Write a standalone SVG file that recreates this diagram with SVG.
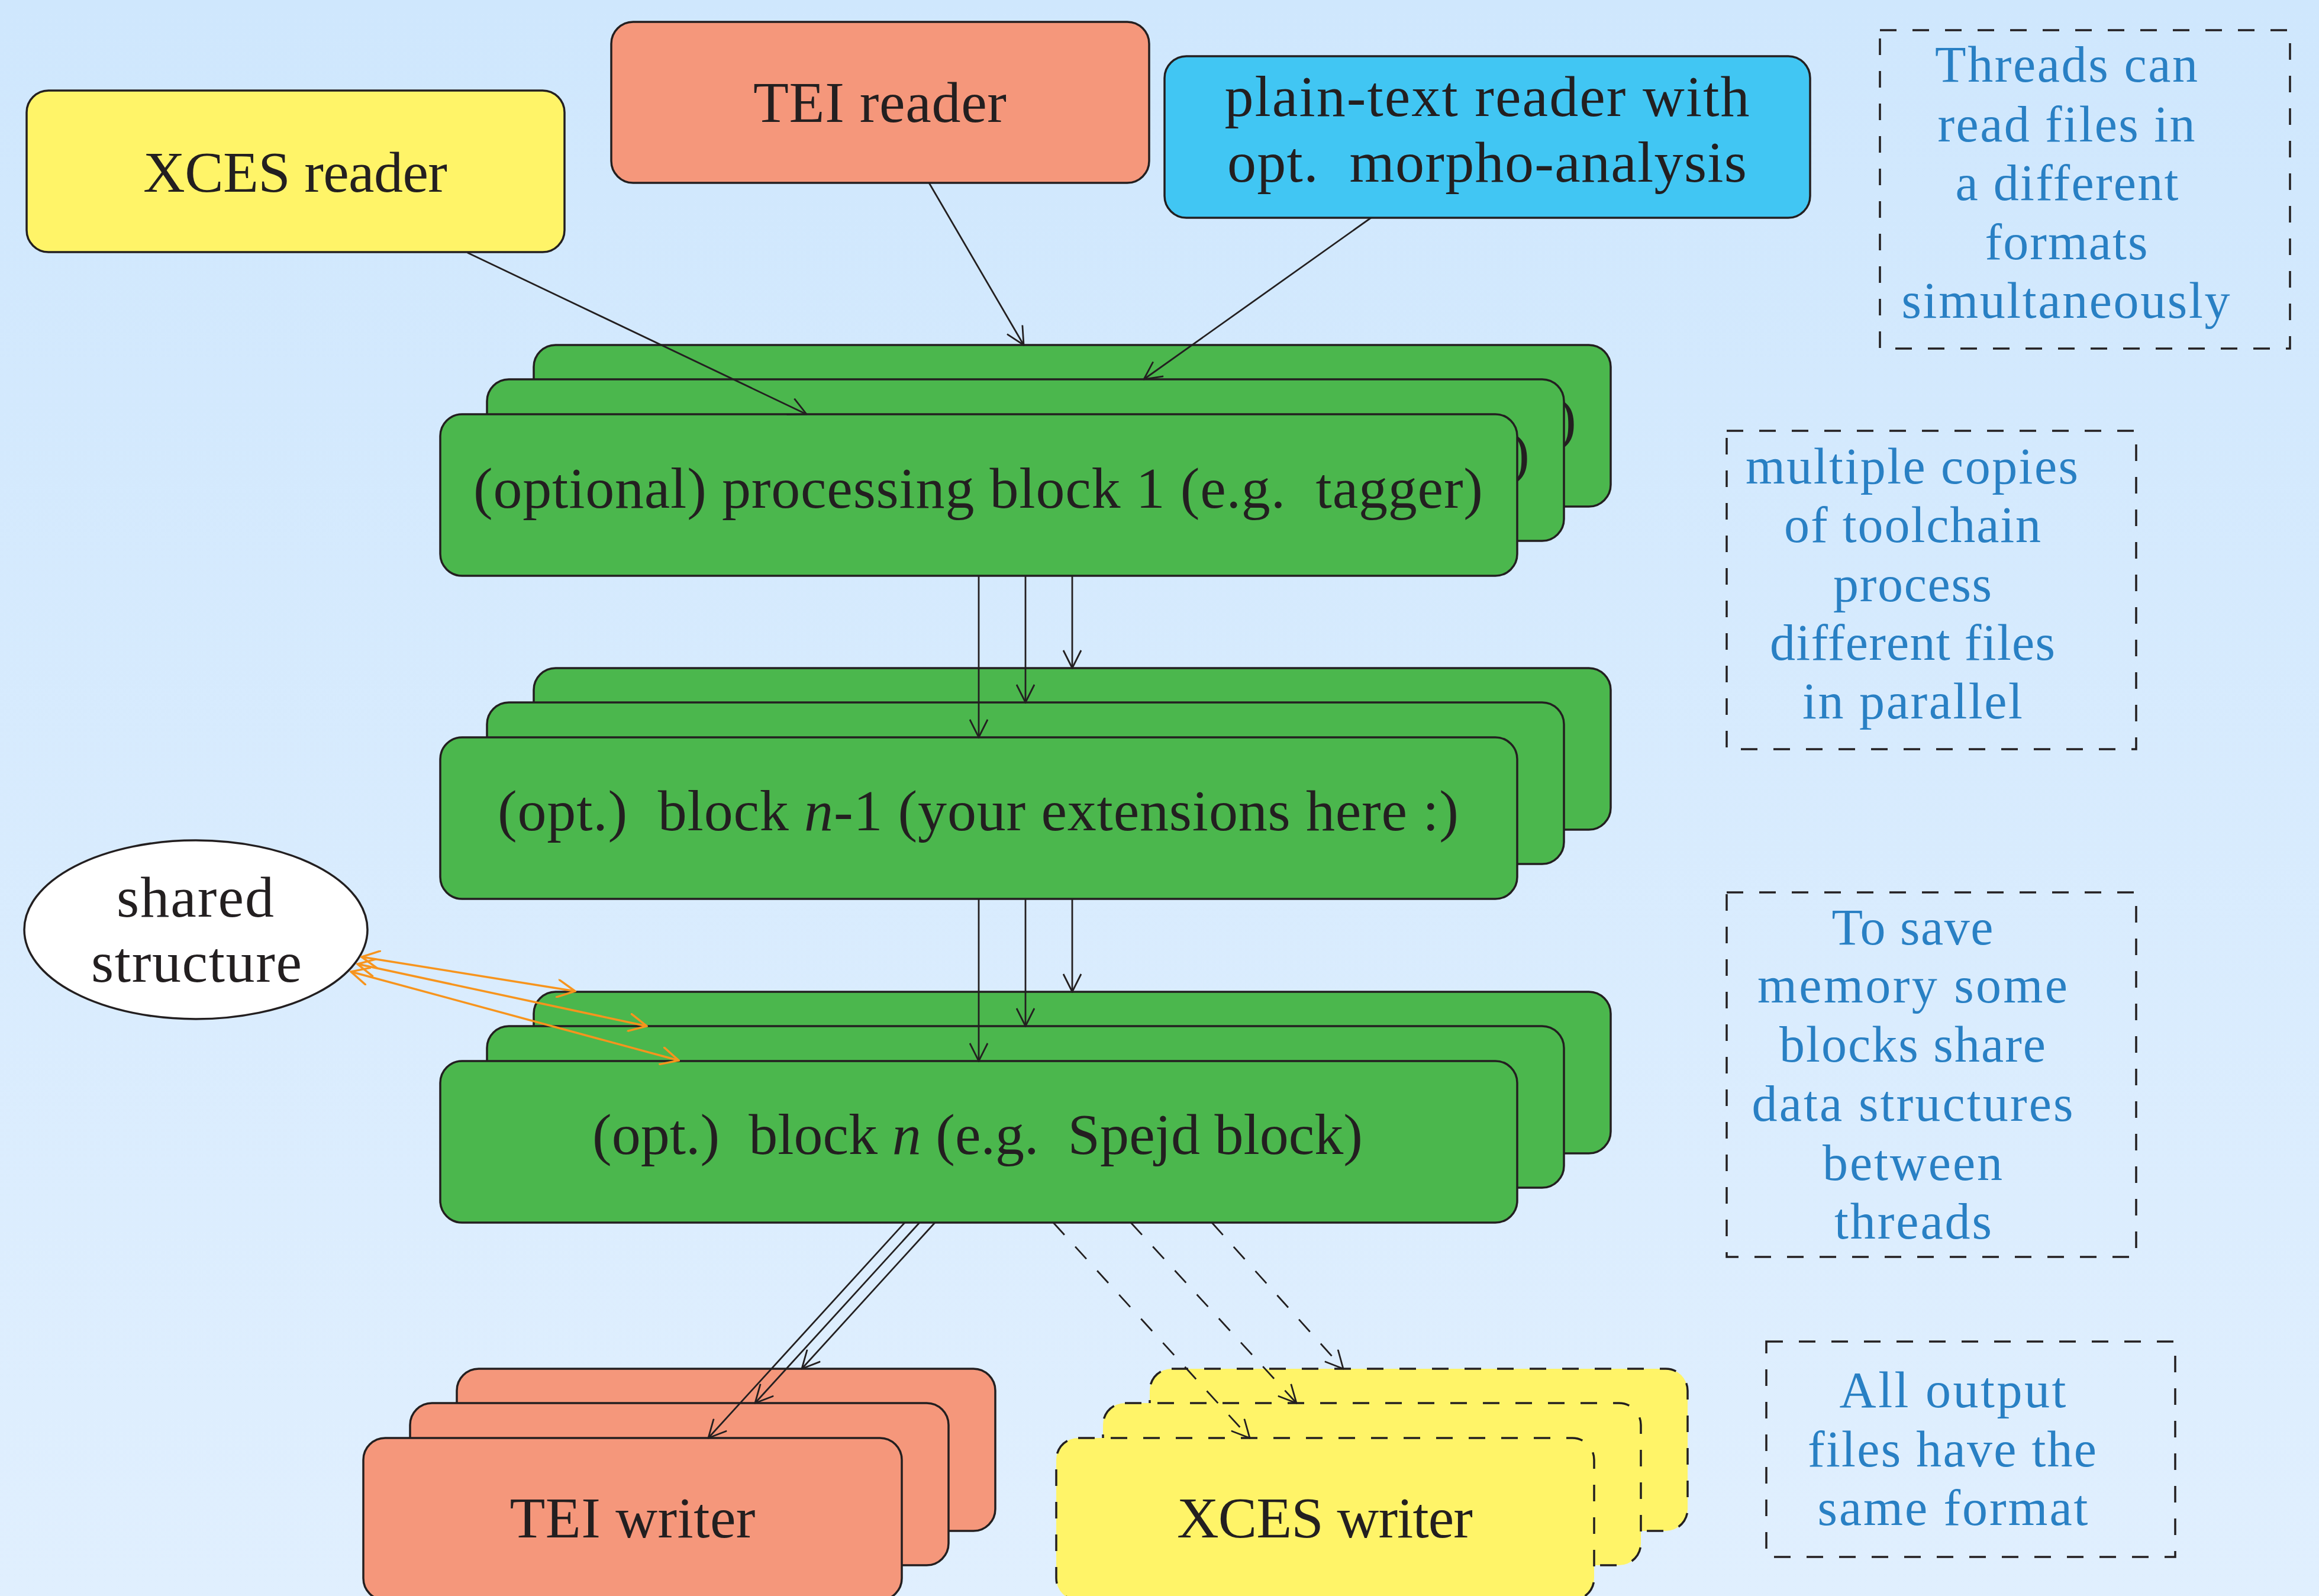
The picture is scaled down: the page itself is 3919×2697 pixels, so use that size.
<svg xmlns="http://www.w3.org/2000/svg" width="3919" height="2697" viewBox="0 0 3919 2697">
<defs>
<linearGradient id="bg" x1="0" y1="0" x2="0" y2="1">
<stop offset="0" stop-color="#cfe7fd"/>
<stop offset="1" stop-color="#e0effe"/>
</linearGradient>
<marker id="ah" markerUnits="userSpaceOnUse" viewBox="-1 -1 33 32" refX="30" refY="15" markerWidth="33" markerHeight="32" orient="auto">
<path d="M0,0 L30,15 L0,30" fill="none" stroke="#231f20" stroke-width="2.8" stroke-dasharray="none"/>
</marker>
<marker id="ao" markerUnits="userSpaceOnUse" viewBox="-1 -1 33 32" refX="30" refY="15" markerWidth="33" markerHeight="32" orient="auto-start-reverse">
<path d="M0,0 L30,15 L0,30" fill="none" stroke="#f7941d" stroke-width="3.5" stroke-linecap="round"/>
</marker>
</defs>
<style>
.box{stroke:#231f20;stroke-width:3.5}
.green{fill:#4bb74d}
.yellow{fill:#fff468}
.salmon{fill:#f5977b}
.cyan{fill:#41c6f3}
.dash{stroke-dasharray:28 27}
.note{fill:none;stroke:#231f20;stroke-width:3.5;stroke-dasharray:28 27}
.lbl{font-family:"Liberation Serif","DejaVu Serif",serif;font-size:98px;fill:#231f20;text-anchor:middle;white-space:pre}
.ntx{font-family:"Liberation Serif","DejaVu Serif",serif;font-size:86px;fill:#2980c4;text-anchor:middle}
.conn{stroke:#231f20;stroke-width:2.8;fill:none}
.orng{stroke:#f7941d;stroke-width:3.5;fill:none}
</style>
<rect x="0" y="0" width="3919" height="2697" fill="url(#bg)"/>

<g id="xces-reader">
<rect class="box yellow" x="45" y="153" width="909" height="273" rx="37"/>
<text class="lbl" x="499" y="324" textLength="514" lengthAdjust="spacing">XCES reader</text>
</g>
<g id="tei-reader">
<rect class="box salmon" x="1033" y="37" width="909" height="272" rx="37"/>
<text class="lbl" x="1487" y="206" textLength="428" lengthAdjust="spacing">TEI reader</text>
</g>
<g id="plain-reader">
<rect class="box cyan" x="1968" y="95" width="1091" height="273" rx="37"/>
<text class="lbl" x="2513" y="196" textLength="887" lengthAdjust="spacing">plain-text reader with</text>
<text class="lbl" x="2513" y="307" textLength="878" lengthAdjust="spacing">opt.  morpho-analysis</text>
</g>

<g id="block1">
<rect class="box green" x="902" y="583" width="1820" height="273" rx="37"/>
<text class="lbl" x="2664" y="741" style="text-anchor:end">)</text>
<rect class="box green" x="823" y="641" width="1820" height="273" rx="37"/>
<text class="lbl" x="2585" y="799" style="text-anchor:end">)</text>
<rect class="box green" x="744" y="700" width="1820" height="273" rx="37"/>
<text class="lbl" x="1653" y="858" textLength="1706" lengthAdjust="spacing">(optional) processing block 1 (e.g.  tagger)</text>
</g>

<g id="block-n-1">
<rect class="box green" x="902" y="1129" width="1820" height="273" rx="37"/>
<rect class="box green" x="823" y="1187" width="1820" height="273" rx="37"/>
<rect class="box green" x="744" y="1246" width="1820" height="273" rx="37"/>
<text class="lbl" x="1653" y="1403" textLength="1624" lengthAdjust="spacing">(opt.)  block <tspan font-style="italic">n</tspan>-1 (your extensions here :)</text>
</g>

<g id="block-n">
<rect class="box green" x="902" y="1676" width="1820" height="273" rx="37"/>
<rect class="box green" x="823" y="1734" width="1820" height="273" rx="37"/>
<rect class="box green" x="744" y="1793" width="1820" height="273" rx="37"/>
<text class="lbl" x="1652" y="1950" textLength="1302" lengthAdjust="spacing">(opt.)  block <tspan font-style="italic">n</tspan> (e.g.  Spejd block)</text>
</g>

<g id="shared-structure">
<ellipse cx="331" cy="1571" rx="290" ry="151" fill="#ffffff" stroke="#231f20" stroke-width="3.5"/>
<text class="lbl" x="330" y="1549" textLength="266" lengthAdjust="spacing">shared</text>
<text class="lbl" x="332" y="1659" textLength="356" lengthAdjust="spacing">structure</text>
</g>

<g id="tei-writer">
<rect class="box salmon" x="772" y="2313" width="910" height="274" rx="37"/>
<rect class="box salmon" x="693" y="2371" width="910" height="274" rx="37"/>
<rect class="box salmon" x="614" y="2430" width="910" height="274" rx="37"/>
<text class="lbl" x="1069" y="2598" textLength="415" lengthAdjust="spacing">TEI writer</text>
</g>

<g id="xces-writer">
<rect class="box yellow dash" x="1943" y="2313" width="909" height="274" rx="37"/>
<rect class="box yellow dash" x="1864" y="2371" width="909" height="274" rx="37"/>
<rect class="box yellow dash" x="1785" y="2430" width="909" height="274" rx="37"/>
<text class="lbl" x="2239" y="2598" textLength="500" lengthAdjust="spacing">XCES writer</text>
</g>

<g id="note-threads">
<rect class="note" x="3177" y="51" width="693" height="538"/>
<text class="ntx" x="3492" y="138" textLength="444" lengthAdjust="spacing">Threads can</text>
<text class="ntx" x="3492" y="239" textLength="435" lengthAdjust="spacing">read files in</text>
<text class="ntx" x="3493" y="338" textLength="377" lengthAdjust="spacing">a different</text>
<text class="ntx" x="3492" y="438" textLength="275" lengthAdjust="spacing">formats</text>
<text class="ntx" x="3491" y="537" textLength="555" lengthAdjust="spacing">simultaneously</text>
</g>
<g id="note-copies">
<rect class="note" x="2918" y="728" width="692" height="538"/>
<text class="ntx" x="3231" y="817" textLength="562" lengthAdjust="spacing">multiple copies</text>
<text class="ntx" x="3232" y="916" textLength="434" lengthAdjust="spacing">of toolchain</text>
<text class="ntx" x="3232" y="1016" textLength="268" lengthAdjust="spacing">process</text>
<text class="ntx" x="3232" y="1115" textLength="482" lengthAdjust="spacing">different files</text>
<text class="ntx" x="3232" y="1214" textLength="372" lengthAdjust="spacing">in parallel</text>
</g>
<g id="note-memory">
<rect class="note" x="2918" y="1508" width="692" height="616"/>
<text class="ntx" x="3232" y="1596" textLength="273" lengthAdjust="spacing">To save</text>
<text class="ntx" x="3232" y="1694" textLength="524" lengthAdjust="spacing">memory some</text>
<text class="ntx" x="3232" y="1794" textLength="450" lengthAdjust="spacing">blocks share</text>
<text class="ntx" x="3232" y="1894" textLength="543" lengthAdjust="spacing">data structures</text>
<text class="ntx" x="3232" y="1994" textLength="304" lengthAdjust="spacing">between</text>
<text class="ntx" x="3233" y="2093" textLength="266" lengthAdjust="spacing">threads</text>
</g>
<g id="note-output">
<rect class="note" x="2985" y="2267" width="691" height="364"/>
<text class="ntx" x="3300" y="2378" textLength="383" lengthAdjust="spacing">All output</text>
<text class="ntx" x="3299" y="2478" textLength="488" lengthAdjust="spacing">files have the</text>
<text class="ntx" x="3300" y="2577" textLength="457" lengthAdjust="spacing">same format</text>
</g>

<g id="connectors">
<line class="conn" x1="790" y1="427" x2="1363" y2="700" marker-end="url(#ah)"/>
<line class="conn" x1="1570" y1="309" x2="1730" y2="583" marker-end="url(#ah)"/>
<line class="conn" x1="2317" y1="368" x2="1933" y2="641" marker-end="url(#ah)"/>
<line class="conn" x1="1654" y1="973" x2="1654" y2="1246" marker-end="url(#ah)"/>
<line class="conn" x1="1733" y1="973" x2="1733" y2="1187" marker-end="url(#ah)"/>
<line class="conn" x1="1812" y1="973" x2="1812" y2="1129" marker-end="url(#ah)"/>
<line class="conn" x1="1654" y1="1519" x2="1654" y2="1793" marker-end="url(#ah)"/>
<line class="conn" x1="1733" y1="1519" x2="1733" y2="1734" marker-end="url(#ah)"/>
<line class="conn" x1="1812" y1="1519" x2="1812" y2="1676" marker-end="url(#ah)"/>
<line class="orng" x1="611" y1="1617" x2="972" y2="1675" marker-start="url(#ao)" marker-end="url(#ao)"/>
<line class="orng" x1="604" y1="1629" x2="1093" y2="1734" marker-start="url(#ao)" marker-end="url(#ao)"/>
<line class="orng" x1="593" y1="1642" x2="1147" y2="1792" marker-start="url(#ao)" marker-end="url(#ao)"/>
<line class="conn" x1="1529" y1="2066" x2="1197" y2="2430" marker-end="url(#ah)"/>
<line class="conn" x1="1554" y1="2066" x2="1276" y2="2371" marker-end="url(#ah)"/>
<line class="conn" x1="1580" y1="2066" x2="1355" y2="2313" marker-end="url(#ah)"/>
<line class="conn dash" x1="1780" y1="2066" x2="2112" y2="2430" marker-end="url(#ah)"/>
<line class="conn dash" x1="1911" y1="2066" x2="2191" y2="2371" marker-end="url(#ah)"/>
<line class="conn dash" x1="2048" y1="2066" x2="2270" y2="2313" marker-end="url(#ah)"/>
</g>
</svg>
